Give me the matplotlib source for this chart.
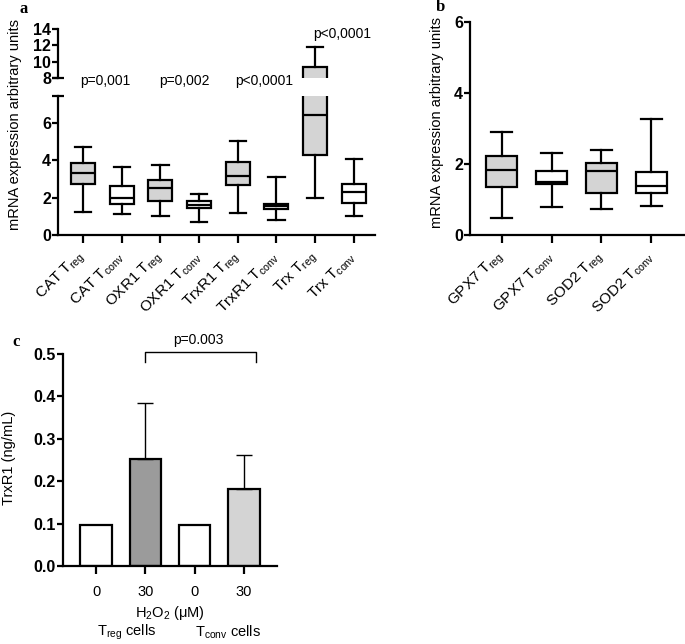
import matplotlib
matplotlib.use("Agg")
import matplotlib.pyplot as plt

plt.rcParams['font.family'] = ['Liberation Sans', 'DejaVu Sans']
plt.rcParams['mathtext.default'] = 'regular'

# Panel a: box statistics
a_genes = ['CAT', 'CAT', 'OXR1', 'OXR1', 'TrxR1', 'TrxR1', 'Trx', 'Trx']
a_cells = ['reg', 'conv', 'reg', 'conv', 'reg', 'conv', 'reg', 'conv']
a_whislo = [1.21, 1.14, 1.01, 0.70, 1.17, 0.83, 2.00, 1.03]
a_q1 = [2.76, 1.64, 1.82, 1.46, 2.68, 1.39, 4.29, 1.72]
a_med = [3.32, 2.00, 2.54, 1.62, 3.14, 1.53, 6.41, 2.32]
a_q3 = [3.87, 2.65, 2.97, 1.82, 3.89, 1.68, 9.35, 2.76]
a_whishi = [4.74, 3.62, 3.73, 2.18, 5.06, 3.12, 11.8, 4.05]
a_pvals = ['p=0,001', 'p=0,002', 'p<0,0001', 'p<0,0001']

# Panel b
b_genes = ['GPX7', 'GPX7', 'SOD2', 'SOD2']
b_cells = ['reg', 'conv', 'reg', 'conv']
b_whislo = [0.47, 0.78, 0.73, 0.83]
b_q1 = [1.34, 1.43, 1.18, 1.18]
b_med = [1.83, 1.50, 1.81, 1.39]
b_q3 = [2.23, 1.79, 2.03, 1.78]
b_whishi = [2.89, 2.30, 2.40, 3.27]

# Panel c
c_doses = ['0', '30', '0', '30']
c_values = [0.096, 0.253, 0.096, 0.182]
c_errors = [0.0, 0.131, 0.0, 0.080]
c_groups = ['T$_{reg}$ cells', 'T$_{conv}$ cells']
c_colors = ['white', '#9b9b9b', 'white', '#d4d4d4']

GREY = '#d4d4d4'
LW = 1.6
W, H = 685, 644


def box(l, t, r, b):
    return [l / W, 1 - b / H, (r - l) / W, (b - t) / H]


def style(ax, yticks, fmt='{:g}'):
    for s in ['top', 'right']:
        ax.spines[s].set_visible(False)
    ax.spines['left'].set_linewidth(LW)
    ax.spines['bottom'].set_linewidth(LW)
    ax.set_yticks(yticks, labels=[fmt.format(v) for v in yticks],
                  fontweight='bold', fontsize=11.5)
    ax.tick_params(axis='y', direction='out', length=4, width=LW, pad=1)
    ax.tick_params(axis='x', direction='out', length=6, width=LW, labelsize=10.5)


def stats(whislo, q1, med, q3, whishi):
    return [dict(whislo=a, q1=b, med=c, q3=d, whishi=e, fliers=[])
            for a, b, c, d, e in zip(whislo, q1, med, q3, whishi)]


def draw_boxes(ax, st, cells):
    pos = list(range(1, len(st) + 1))
    bp = ax.bxp(st, positions=pos, widths=0.62, capwidths=0.42, patch_artist=True,
                showfliers=False, manage_ticks=False,
                boxprops=dict(linewidth=LW, edgecolor='black'),
                whiskerprops=dict(linewidth=LW, color='black'),
                capprops=dict(linewidth=LW, color='black'),
                medianprops=dict(linewidth=LW, color='black'))
    for patch, c in zip(bp['boxes'], cells):
        patch.set_facecolor(GREY if c == 'reg' else 'white')
    return pos


fig = plt.figure(figsize=(6.85, 6.44), dpi=100)

# ---- panel a (broken axis) ----
ax_a = fig.add_axes(box(58, 96, 375, 235))
ax_t = fig.add_axes(box(58, 29, 375, 78))
ax_t.patch.set_visible(False)
st_a = stats(a_whislo, a_q1, a_med, a_q3, a_whishi)
pos_a = draw_boxes(ax_a, st_a, a_cells)
draw_boxes(ax_t, st_a, a_cells)

ax_a.set_xlim(0.35, 8.55)
ax_a.set_ylim(0, 7.45)
style(ax_a, [0, 2, 4, 6])
ax_a.set_xticks(pos_a)
ax_a.set_xticklabels([f'{g} T$_{{{c}}}$' for g, c in zip(a_genes, a_cells)],
                     rotation=45, ha='right', va='center', rotation_mode='anchor',
                     fontsize=11)
ax_a.tick_params(axis='x', pad=8)

ax_t.set_xlim(0.35, 8.55)
ax_t.set_ylim(8, 14)
style(ax_t, [8, 10, 12, 14])
ax_t.spines['bottom'].set_visible(False)
ax_t.set_xticks([])

# break marks
ax_t.plot([0], [8], marker='_', ms=9, mew=LW, color='black',
          transform=ax_t.get_yaxis_transform(), clip_on=False)
ax_a.plot([0], [7.45], marker='_', ms=9, mew=LW, color='black',
          transform=ax_a.get_yaxis_transform(), clip_on=False)

# p-values
for x, y, t in zip([1.57, 3.61, 5.69], [8.27] * 3, a_pvals[:3]):
    ax_a.text(x, y, t, ha='center', va='center', fontsize=10, clip_on=False)
ax_t.text(7.69, 13.4, a_pvals[3], ha='center', va='center', fontsize=10, clip_on=False)

fig.text(15 / W, 1 - 125 / H, 'mRNA expression arbitrary units', rotation=90,
         ha='center', va='center', fontsize=10.5)
fig.text(24 / W, 1 - 9 / H, 'a', family='Liberation Serif', fontweight='bold',
         fontsize=12, ha='center', va='center')

# ---- panel b ----
ax_b = fig.add_axes(box(470, 22, 685, 235))
st_b = stats(b_whislo, b_q1, b_med, b_q3, b_whishi)
pos_b = draw_boxes(ax_b, st_b, b_cells)
ax_b.set_xlim(0.36, 4.68)
ax_b.set_ylim(0, 6)
style(ax_b, [0, 2, 4, 6])
ax_b.set_xticks(pos_b)
ax_b.set_xticklabels([f'{g} T$_{{{c}}}$' for g, c in zip(b_genes, b_cells)],
                     rotation=45, ha='right', va='center', rotation_mode='anchor',
                     fontsize=11)
ax_b.tick_params(axis='x', pad=8)
fig.text(437 / W, 1 - 122 / H, 'mRNA expression arbitrary units', rotation=90,
         ha='center', va='center', fontsize=10.5)
fig.text(440 / W, 1 - 7 / H, 'b', family='Liberation Serif', fontweight='bold',
         fontsize=12, ha='center', va='center')

# ---- panel c ----
ax_c = fig.add_axes(box(63, 354, 277, 566))
pos_c = list(range(1, len(c_values) + 1))
ax_c.bar(pos_c, c_values, width=0.64, color=c_colors, edgecolor='black', linewidth=LW)
err_idx = [i for i, e in enumerate(c_errors) if e > 0]
ax_c.errorbar([pos_c[i] for i in err_idx], [c_values[i] for i in err_idx],
              yerr=[[0] * len(err_idx), [c_errors[i] for i in err_idx]],
              fmt='none', ecolor='black', elinewidth=1, capsize=6, capthick=1)
ax_c.set_xlim(0.33, 4.67)
ax_c.set_ylim(0, 0.5)
style(ax_c, [0, 0.1, 0.2, 0.3, 0.4, 0.5], fmt='{:.1f}')
ax_c.set_xticks(pos_c)
ax_c.set_xticklabels(c_doses)
ax_c.tick_params(axis='x', pad=8)
ax_c.set_xlabel('H$_2$O$_2$ ($\\mu$M)', fontsize=10.5, labelpad=3)

# significance bracket
bx0, bx1 = pos_c[1], pos_c[3] + 0.25
ax_c.plot([bx0, bx0, bx1, bx1], [0.48, 0.505, 0.505, 0.48], color='black', lw=1,
          clip_on=False)
ax_c.text(3.07, 0.532, 'p=0.003', ha='center', va='center', fontsize=10, clip_on=False)

for x, g in zip([127, 228], c_groups):
    fig.text(x / W, 1 - 632 / H, g, ha='center', va='center', fontsize=10.5)

fig.text(9 / W, 1 - 458 / H, 'TrxR1 (ng/mL)', rotation=90, ha='center', va='center',
         fontsize=10.5)
fig.text(16 / W, 1 - 342 / H, 'c', family='Liberation Serif', fontweight='bold',
         fontsize=12, ha='center', va='center')

fig.savefig('out.png', dpi=100)
